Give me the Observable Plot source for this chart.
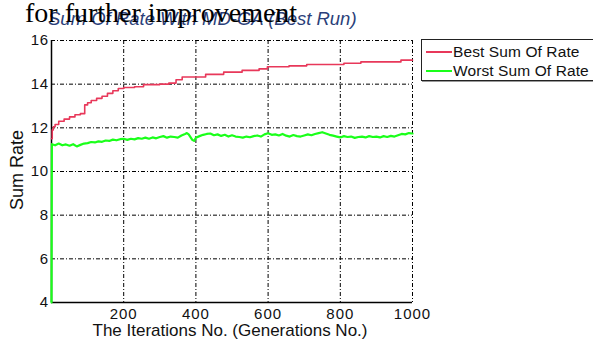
<!DOCTYPE html>
<html>
<head>
<meta charset="utf-8">
<script src="https://cdn.jsdelivr.net/npm/d3@7"></script>
<script src="https://cdn.jsdelivr.net/npm/@observablehq/plot@0.6"></script>
<style>
  html, body { margin: 0; padding: 0; background: #fff; }
  #wrap { position: relative; width: 593px; height: 341px; overflow: hidden; font-family: "Liberation Sans", Arial, sans-serif; }
  #chart { position: absolute; left: 0; top: 0; }
  .abs { position: absolute; white-space: nowrap; }
  #over { left: 25px; top: -3px; font-family: "Liberation Serif", "Times New Roman", serif; font-size: 28px; line-height: 32px; color: #000; z-index: 3; }
  #title { left: 48px; top: 8px; font-style: italic; font-size: 18.5px; line-height: 21px; color: #2b3f7a; z-index: 2; }
  #xlabel { left: 230px; top: 321px; transform: translateX(-50%); font-size: 17px; line-height: 20px; color: #111; }
  #ylabel { left: 17px; top: 170px; transform: translate(-50%, -50%) rotate(-90deg); font-size: 18px; color: #111; }
  #legend { left: 421px; top: 39px; width: 175px; height: 40px; border: 1px solid #222; background: #fff; box-shadow: 1px 1px 0 #999; }
  .lrow { position: absolute; left: 4px; height: 20px; font-size: 15.5px; line-height: 20px; color: #111; letter-spacing: 0.1px; }
  .lrow span.sw { position: absolute; left: 0; top: 9px; width: 26px; height: 0; border-top: 2px solid; }
  .lrow span.tx { position: absolute; left: 27px; top: 0; }
  svg g[aria-label="x-axis tick label"] text { letter-spacing: 1px; }
  svg g[aria-label="y-axis tick label"] text { letter-spacing: 0.5px; }
</style>
</head>
<body>
<div id="wrap">
  <div id="chart"></div>
  <div id="title" class="abs">Sum Of Rate With MD-GA (Best Run)</div>
  <div id="over" class="abs">for further improvement</div>
  <div id="xlabel" class="abs">The Iterations No. (Generations No.)</div>
  <div id="ylabel" class="abs">Sum Rate</div>
  <div id="legend" class="abs"></div>
</div>
<script>
// ---- data ----
const seriesNames = ["Best Sum Of Rate", "Worst Sum Of Rate"];
const seriesColors = ["#e8385a", "#1aff1a"];
const xTicks = [200, 400, 600, 800, 1000];
const yTicks = [4, 6, 8, 10, 12, 14, 16];

const bestIter = [0, 2, 5, 10, 20, 35, 50, 65, 80, 92, 100, 110, 125, 140, 155, 170, 185, 200, 230, 255, 300, 325, 345, 362, 427, 477, 528, 575, 598, 658, 707, 810, 857, 968, 1000];
const bestVal  = [11.5, 11.9, 12.05, 12.15, 12.3, 12.4, 12.5, 12.6, 12.65, 13.05, 13.15, 13.25, 13.35, 13.45, 13.58, 13.7, 13.8, 13.85, 13.88, 13.98, 14.0, 14.05, 14.2, 14.33, 14.45, 14.55, 14.63, 14.7, 14.8, 14.84, 14.9, 14.96, 15.02, 15.1, 15.1];

const worstIter = [0, 1, 10, 20, 30, 40, 50, 60, 70, 80, 90, 100, 110, 120, 130, 140, 150, 160, 170, 180, 190, 200, 210, 220, 230, 240, 250, 260, 270, 280, 290, 300, 310, 320, 330, 340, 350, 360, 370, 375, 380, 390, 395, 400, 410, 420, 430, 440, 450, 460, 470, 480, 490, 500, 510, 520, 530, 540, 550, 560, 570, 580, 590, 600, 610, 620, 630, 640, 650, 660, 670, 680, 690, 700, 710, 720, 730, 740, 750, 760, 770, 780, 790, 800, 810, 820, 830, 840, 850, 860, 870, 880, 890, 900, 910, 920, 930, 940, 950, 960, 970, 980, 990, 1000];
const worstVal  = [4, 11.25, 11.2, 11.28, 11.2, 11.24, 11.18, 11.25, 11.15, 11.22, 11.28, 11.3, 11.35, 11.33, 11.38, 11.36, 11.42, 11.4, 11.46, 11.43, 11.48, 11.5, 11.45, 11.5, 11.47, 11.53, 11.5, 11.55, 11.5, 11.56, 11.52, 11.58, 11.62, 11.55, 11.6, 11.58, 11.55, 11.65, 11.72, 11.76, 11.7, 11.45, 11.4, 11.55, 11.62, 11.68, 11.72, 11.74, 11.66, 11.7, 11.63, 11.68, 11.6, 11.66, 11.6, 11.58, 11.55, 11.6, 11.57, 11.62, 11.65, 11.6, 11.7, 11.75, 11.68, 11.7, 11.65, 11.72, 11.64, 11.6, 11.67, 11.62, 11.6, 11.65, 11.7, 11.66, 11.72, 11.76, 11.8, 11.74, 11.68, 11.64, 11.6, 11.56, 11.62, 11.58, 11.6, 11.54, 11.58, 11.6, 11.56, 11.62, 11.58, 11.6, 11.56, 11.62, 11.58, 11.63, 11.6, 11.66, 11.72, 11.7, 11.76, 11.74];

const best = bestIter.map((x, i) => ({x, y: bestVal[i]}));
const worst = worstIter.map((x, i) => ({x, y: worstVal[i]}));

const dash = "4,2,1,2";
const chart = Plot.plot({
  width: 593,
  height: 341,
  marginLeft: 51,
  marginRight: 181,
  marginTop: 40,
  marginBottom: 39,
  style: {fontFamily: "'Liberation Sans', Arial, sans-serif", fontSize: "15px", color: "#111", background: "transparent"},
  x: {domain: [0, 1000], axis: null},
  y: {domain: [4, 16], axis: null},
  marks: [
    Plot.gridX(xTicks, {stroke: "#000", strokeOpacity: 1, strokeDasharray: dash, strokeWidth: 1}),
    Plot.gridY(yTicks.filter(d => d > 4), {stroke: "#000", strokeOpacity: 1, strokeDasharray: dash, strokeWidth: 1}),
    Plot.ruleX([0], {stroke: "#000", strokeWidth: 1.5}),
    Plot.ruleY([4], {stroke: "#000", strokeWidth: 1.5}),
    Plot.line(worst, {x: "x", y: "y", stroke: seriesColors[1], strokeWidth: 2.2}),
    Plot.line(best, {x: "x", y: "y", stroke: seriesColors[0], strokeWidth: 1.6, curve: "step-after"}),
    Plot.axisX(xTicks, {tickSize: 0, tickPadding: 6, fontSize: 15, label: null, tickFormat: d => String(d)}),
    Plot.axisY(yTicks, {tickSize: 0, tickPadding: 3, fontSize: 15, label: null, tickFormat: d => String(d)})
  ]
});
document.getElementById("chart").appendChild(chart);

// legend
const leg = document.getElementById("legend");
seriesNames.forEach((name, i) => {
  const row = document.createElement("div");
  row.className = "lrow";
  row.style.top = (2 + i * 19) + "px";
  row.innerHTML = `<span class="sw" style="border-color:${seriesColors[i]}"></span><span class="tx">${name}</span>`;
  leg.appendChild(row);
});
</script>
</body>
</html>
